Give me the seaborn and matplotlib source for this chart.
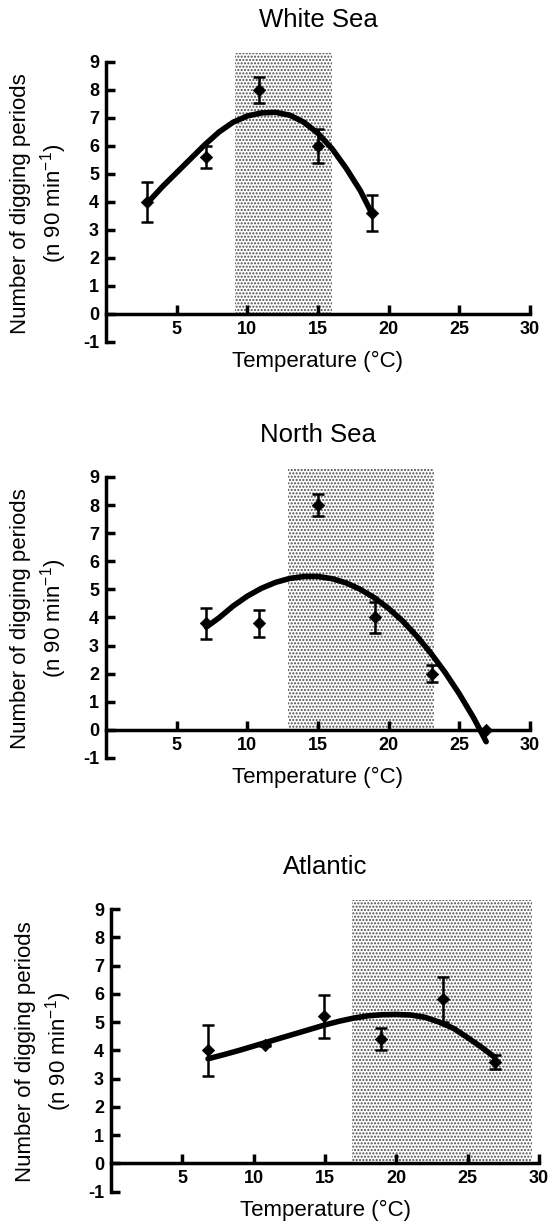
import matplotlib
matplotlib.use('Agg')
import matplotlib.pyplot as plt
import seaborn as sns

# ---- data ----
titles = ['White Sea', 'North Sea', 'Atlantic']

white_temp = [2.9, 7.1, 10.8, 15.0, 18.8]
white_mean = [4.0, 5.6, 8.0, 6.0, 3.6]
white_err = [0.7, 0.4, 0.45, 0.6, 0.65]
white_fit_t = [2.9, 4, 5, 6, 7, 8, 9, 10, 11, 12, 13, 14, 15, 16, 17, 18, 18.8]
white_fit_y = [3.95, 4.55, 5.05, 5.55, 6.05, 6.5, 6.85, 7.07, 7.18, 7.2, 7.1, 6.85, 6.45, 5.9, 5.2, 4.4, 3.6]
white_opt = [9.1, 16.0]

north_temp = [7.1, 10.8, 15.0, 19.0, 23.1, 26.9]
north_mean = [3.8, 3.8, 8.0, 4.0, 2.0, 0.0]
north_err = [0.55, 0.48, 0.4, 0.55, 0.3, 0.0]
north_fit_t = [7.1, 8, 9, 10, 11, 12, 13, 14, 15, 16, 17, 18, 19, 20, 21, 22, 23, 24, 25, 26, 26.9]
north_fit_y = [3.66, 3.99, 4.41, 4.76, 5.04, 5.25, 5.39, 5.46, 5.46, 5.38, 5.23, 5.0, 4.7, 4.32, 3.87, 3.33, 2.72, 2.04, 1.28, 0.44, -0.42]
north_opt = [12.9, 23.2]

atl_temp = [6.8, 10.8, 14.9, 18.9, 23.3, 26.9]
atl_mean = [4.0, 4.2, 5.2, 4.4, 5.8, 3.6]
atl_err = [0.9, 0.05, 0.75, 0.4, 0.8, 0.25]
atl_fit_t = [6.8, 8, 9, 10, 11, 12, 13, 14, 15, 16, 17, 18, 19, 20, 21, 22, 23, 24, 25, 26, 26.9]
atl_fit_y = [3.7, 3.86, 4.0, 4.15, 4.3, 4.45, 4.6, 4.75, 4.9, 5.03, 5.14, 5.22, 5.26, 5.27, 5.25, 5.17, 5.0, 4.78, 4.45, 4.1, 3.75]
atl_opt = [16.9, 29.5]

x_ticks = [5, 10, 15, 20, 25, 30]
y_ticks = [-1, 0, 1, 2, 3, 4, 5, 6, 7, 8, 9]

sns.set_style('ticks')
plt.rcParams['font.family'] = ['Liberation Sans', 'DejaVu Sans']
plt.rcParams['text.color'] = 'black'
plt.rcParams['axes.labelcolor'] = 'black'
plt.rcParams['axes.edgecolor'] = 'black'
plt.rcParams['xtick.color'] = 'black'
plt.rcParams['ytick.color'] = 'black'
plt.rcParams['axes.unicode_minus'] = False
plt.rcParams['mathtext.fontset'] = 'custom'
plt.rcParams['mathtext.rm'] = 'Liberation Sans'
plt.rcParams['mathtext.default'] = 'regular'
plt.rcParams['hatch.linewidth'] = 1.0

Y_TOP = 9.32

fig = plt.figure(figsize=(5.52, 12.26), dpi=100)
rects = [
    [106 / 552, 1 - 342 / 1226, 424 / 552, 289 / 1226],
    [106 / 552, 1 - 758 / 1226, 424 / 552, 290 / 1226],
    [111 / 552, 1 - 1191.6 / 1226, 428 / 552, 291.6 / 1226],
]
panels = [
    (white_temp, white_mean, white_err, white_fit_t, white_fit_y, white_opt),
    (north_temp, north_mean, north_err, north_fit_t, north_fit_y, north_opt),
    (atl_temp, atl_mean, atl_err, atl_fit_t, atl_fit_y, atl_opt),
]

for rect, title, (temp, mean, err, fit_t, fit_y, opt) in zip(rects, titles, panels):
    ax = fig.add_axes(rect)
    # shaded optimum range
    ax.fill_between(opt, 0, Y_TOP, facecolor='white', edgecolor='#4a4a4a',
                    hatch='.....', linewidth=0, zorder=0)
    # fitted curve
    sns.lineplot(x=fit_t, y=fit_y, ax=ax, color='black', linewidth=4, zorder=3)
    # means +- error
    ax.errorbar(temp, mean, yerr=err, fmt='none', ecolor='black', elinewidth=1.8,
                capsize=4.3, capthick=1.8, zorder=4)
    sns.scatterplot(x=temp, y=mean, ax=ax, marker='D', s=40, color='black',
                    edgecolor='black', zorder=5)

    ax.set_xlim(0, 30)
    ax.set_ylim(-1, Y_TOP)
    ax.set_xticks(x_ticks)
    ax.set_yticks(y_ticks)
    for s in ['top', 'right']:
        ax.spines[s].set_visible(False)
    ax.spines['bottom'].set_position(('data', 0))
    ax.spines['bottom'].set_bounds(0, 30)
    ax.spines['left'].set_bounds(-1, 9)
    for s in ['bottom', 'left']:
        ax.spines[s].set_linewidth(2.5)
        ax.spines[s].set_zorder(6)
    ax.tick_params(direction='in', length=6.5, width=2.5, labelsize=13, pad=5)
    for lab in ax.get_xticklabels() + ax.get_yticklabels():
        lab.set_fontweight('bold')

    ax.set_title(title, fontsize=18.5, pad=18.7)
    ax.set_xlabel('Temperature (°C)', fontsize=16)
    ax.set_ylabel('Number of digging periods\n(n 90 min$^{-1}$)', fontsize=16, linespacing=1.3)
    ax.xaxis.set_label_coords(0.5, -0.03)
    ax.yaxis.set_label_coords(-0.087, 0.48)

fig.savefig('out.png', dpi=100)
